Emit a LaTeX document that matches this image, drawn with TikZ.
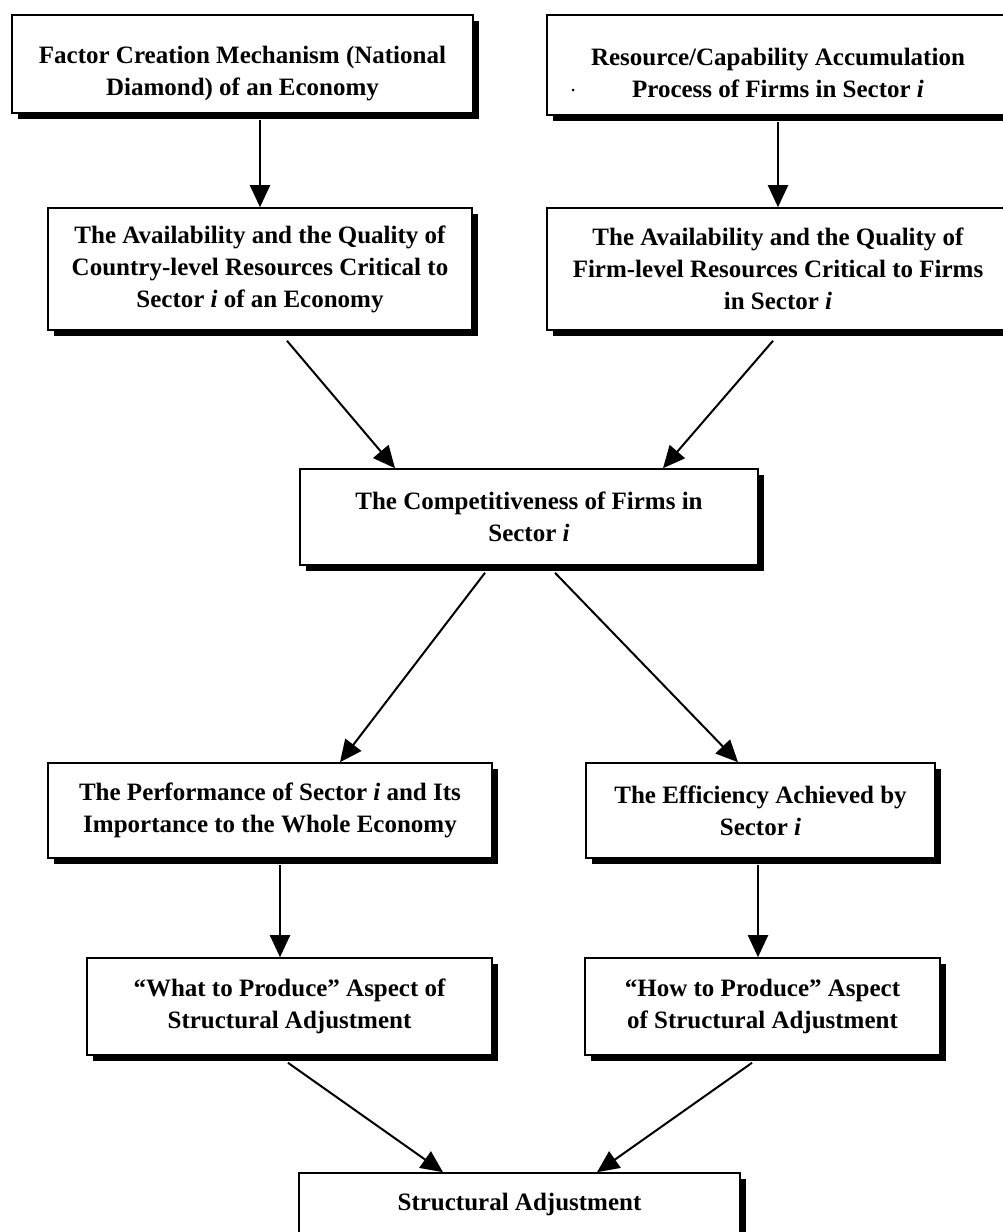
\documentclass[tikz,border=0pt]{standalone}
\usepackage{fontspec}
\setmainfont{Liberation Serif}
\usetikzlibrary{arrows.meta,shadows,calc}
\begin{document}
\begin{tikzpicture}[x=1pt,y=-1pt,
  txt/.style={align=center, inner sep=0pt, font=\fontsize{25}{32}\selectfont\bfseries},
  box/.style={draw=black, line width=1.6pt, fill=white, txt,
    drop shadow={shadow xshift=6pt, shadow yshift=-6pt, fill=black, opacity=1}},
  arr/.style={line width=2pt, -{Triangle[width=20pt,length=22pt]}}
]
\useasboundingbox (0,0) rectangle (1003,1232);

% top row: the text sits a little below the middle of these boxes
\node[box, minimum width=461pt, minimum height=98pt,
  label={[txt, yshift=-10pt]center:{Factor Creation Mechanism (National\\Diamond) of an Economy}}]
  (b1) at (242.5,64) {};
\node[box, minimum width=462pt, minimum height=100pt,
  label={[txt, yshift=-8pt]center:{Resource/Capability Accumulation\\Process of Firms in Sector \textit{i}}}]
  (b2) at (778,65) {};
\fill (573,90) circle (1.5);

% resources
\node[box, minimum width=424pt, minimum height=122pt] (b3) at (260,269)
  {The Availability and the Quality of\\Country-level Resources Critical to\\Sector \textit{i} of an Economy};
\node[box, minimum width=462pt, minimum height=122pt] (b4) at (778,269)
  {The Availability and the Quality of\\Firm-level Resources Critical to Firms\\in Sector \textit{i}};

% competitiveness
\node[box, minimum width=458pt, minimum height=96pt] (b5) at (529,517)
  {The Competitiveness of Firms in\\Sector \textit{i}};

% outcomes
\node[box, minimum width=444pt, minimum height=95pt] (b6) at (270,810.5)
  {The Performance of Sector \textit{i} and Its\\Importance to the Whole Economy};
\node[box, minimum width=349pt, minimum height=95pt] (b7) at (760.5,810.5)
  {The Efficiency Achieved by\\Sector \textit{i}};

% aspects of adjustment
\node[box, minimum width=405pt, minimum height=97pt] (b8) at (289.5,1006.5)
  {``What to Produce'' Aspect of\\Structural Adjustment};
\node[box, minimum width=355pt, minimum height=97pt] (b9) at (762.5,1006.5)
  {``How to Produce'' Aspect\\of Structural Adjustment};

% result
\node[box, minimum width=441pt, minimum height=62pt] (b10) at (519.5,1204)
  {Structural Adjustment};

% connectors
\draw[arr] ($(b1.south -| b3.north)+(0,6)$) -- (b3.north);
\draw[arr] ($(b2.south)+(0,6)$) -- (b4.north);
\draw[arr] ($(b3.south)+(27,10)$) -- ($(b5.north)+(-134,0)$);
\draw[arr] ($(b4.south)+(-5,10)$) -- ($(b5.north)+(134,0)$);
\draw[arr] ($(b5.south)+(-44,7)$) -- ($(b6.north)+(70,0)$);
\draw[arr] ($(b5.south)+(26,7)$) -- ($(b7.north)+(-22.5,0)$);
\draw[arr] ($(b6.south)+(10,6)$) -- ($(b8.north)+(-9.5,0)$);
\draw[arr] ($(b7.south)+(-2.5,6)$) -- ($(b9.north)+(-4.5,0)$);
\draw[arr] ($(b8.south)+(-1.5,7)$) -- ($(b10.north)+(-76.5,0)$);
\draw[arr] ($(b9.south)+(-10.5,7)$) -- ($(b10.north)+(77.5,0)$);
\end{tikzpicture}
\end{document}
